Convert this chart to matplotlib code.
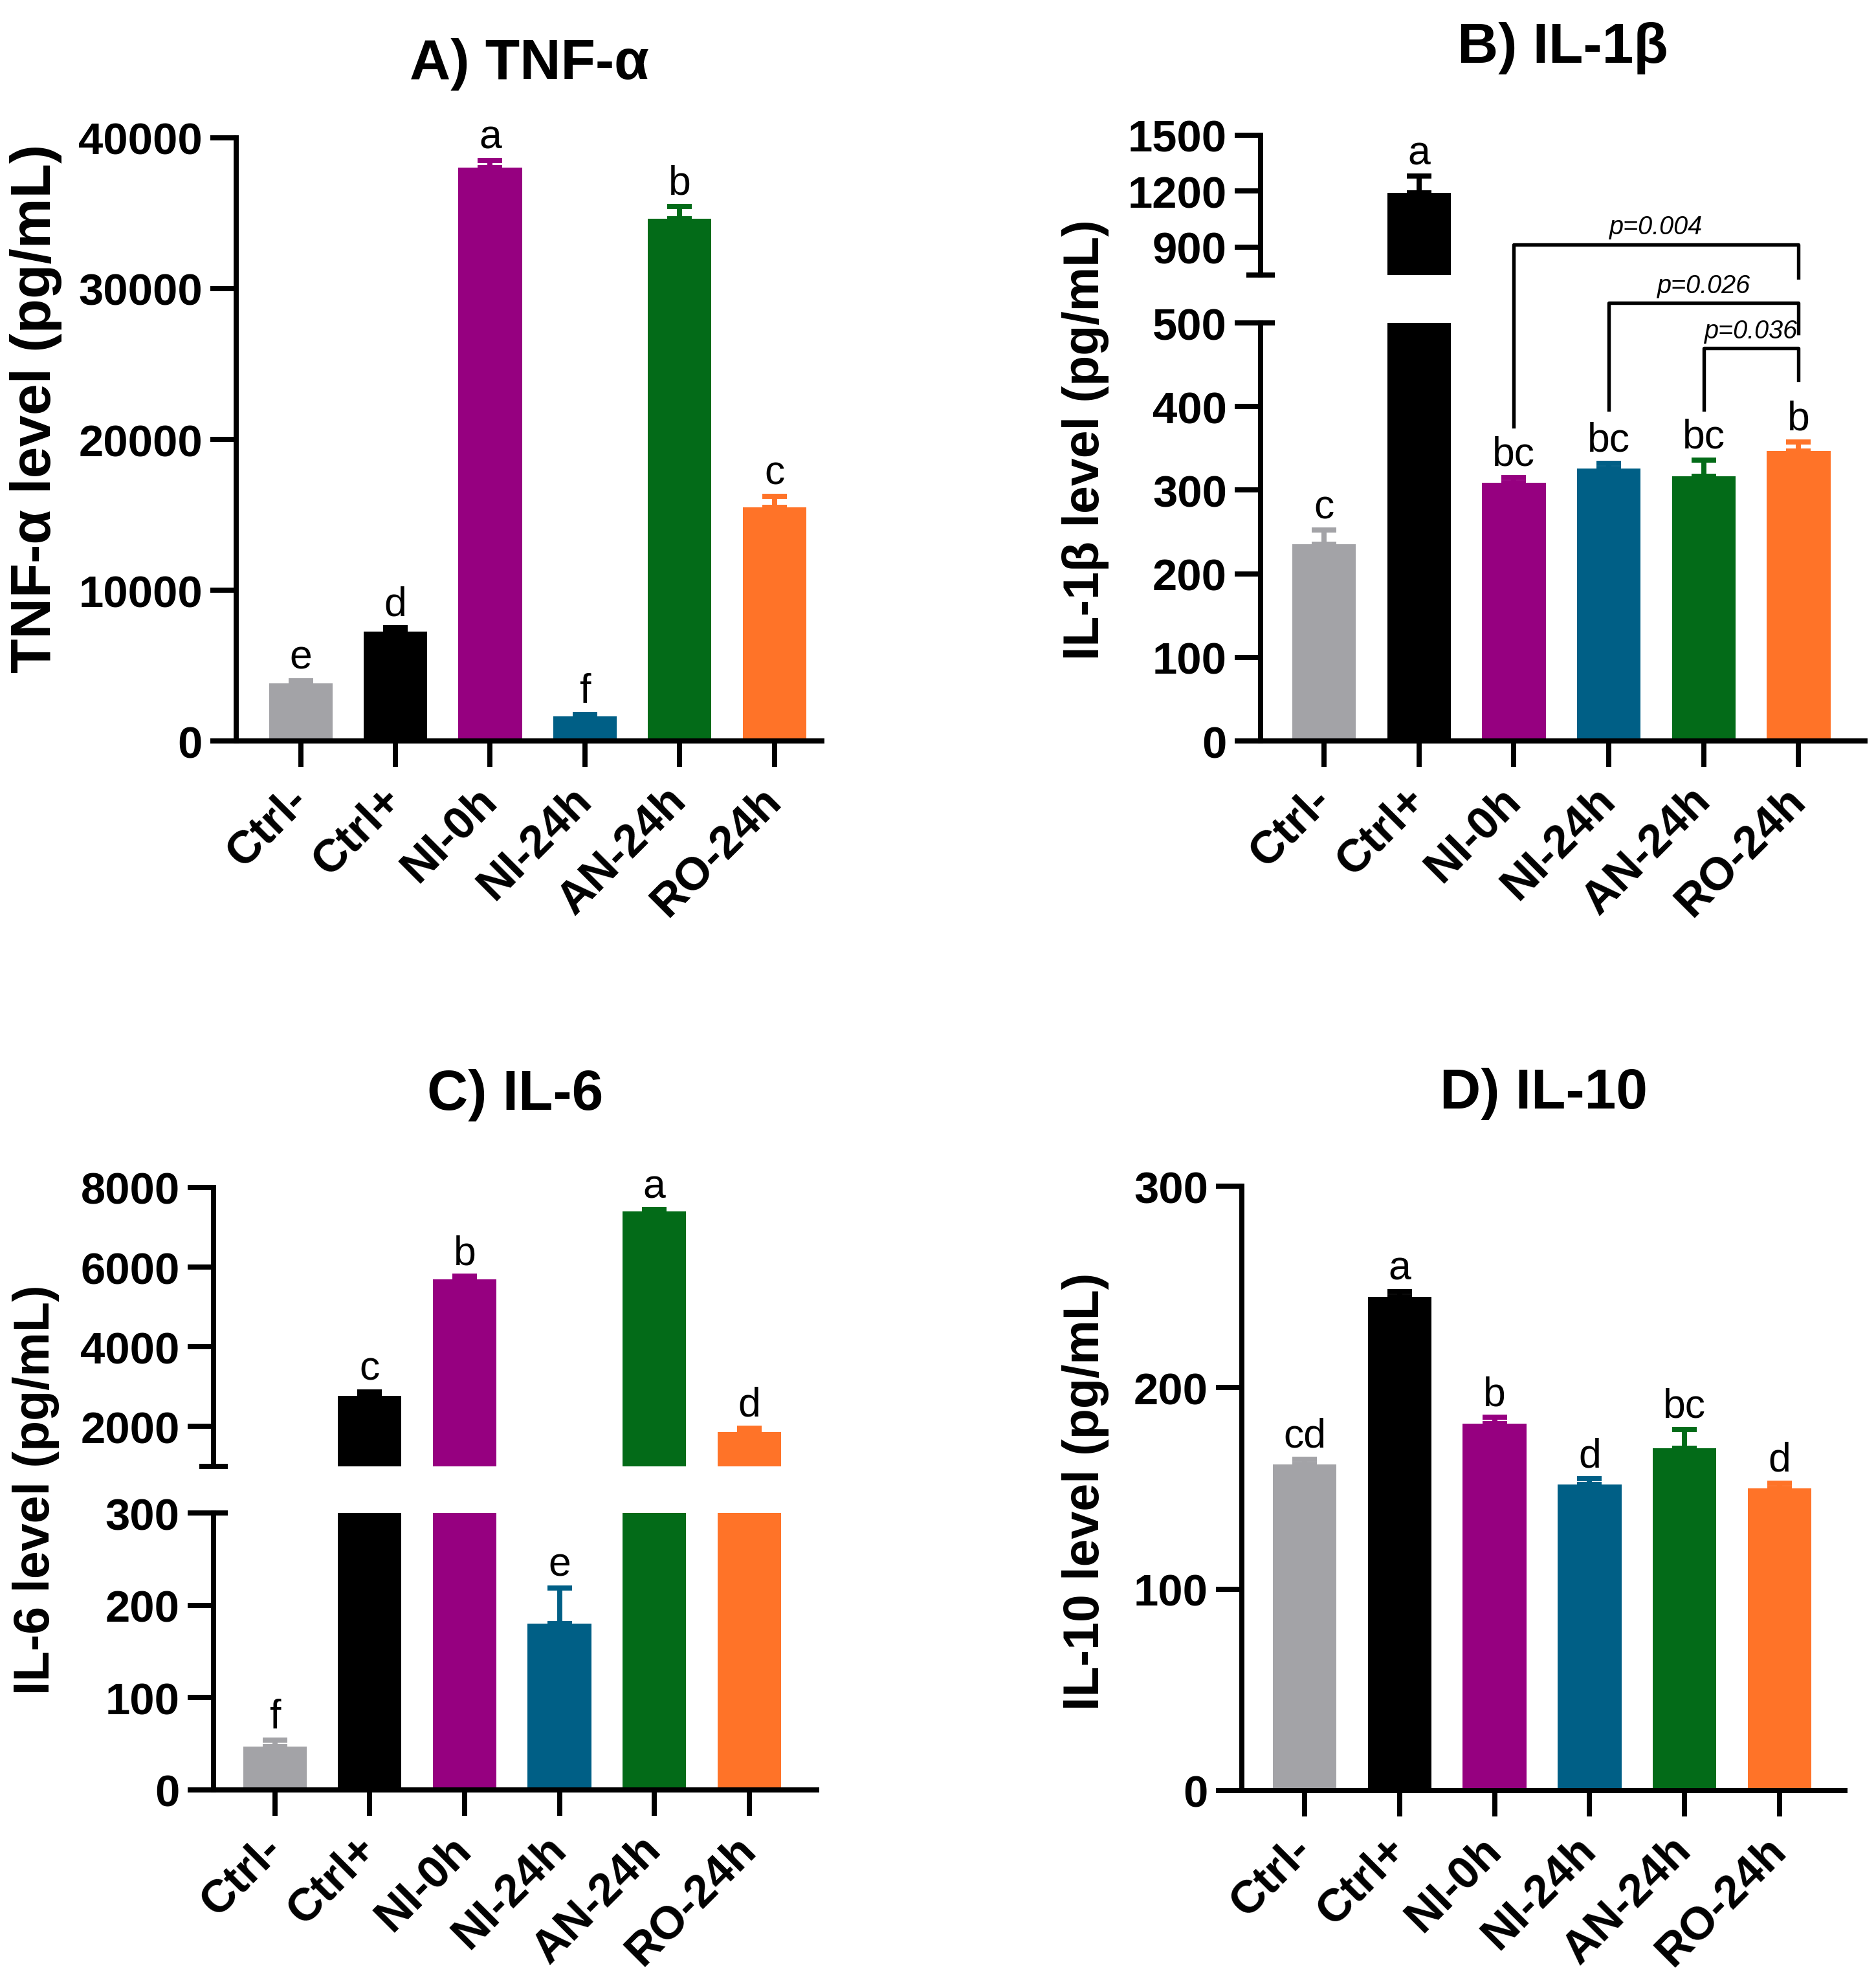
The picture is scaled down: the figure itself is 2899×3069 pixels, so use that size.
import numpy as np
import matplotlib
matplotlib.use('Agg')
import matplotlib.pyplot as plt

plt.rcParams['font.family'] = ['Liberation Sans', 'DejaVu Sans']
plt.rcParams['font.weight'] = 'bold'

# ---- data ----
groups = ['Ctrl-', 'Ctrl+', 'NI-0h', 'NI-24h', 'AN-24h', 'RO-24h']
colors = ['#A3A3A7', '#000000', '#960080', '#005F86', '#036B18', '#FF7328']

tnf_mean = [3830, 7250, 38040, 1640, 34650, 15480]
tnf_err = [170, 260, 460, 120, 800, 750]
tnf_letters = ['e', 'd', 'a', 'f', 'b', 'c']

il1b_mean = [235, 1190, 309, 326, 317, 347]
il1b_err = [17, 90, 6, 6, 19, 11]
il1b_letters = ['c', 'a', 'bc', 'bc', 'bc', 'b']

il6_mean = [47, 2775, 5690, 180, 7390, 1865]
il6_err = [7, 95, 75, 39, 50, 95]
il6_letters = ['f', 'c', 'b', 'e', 'a', 'd']

il10_mean = [162, 245, 182, 152, 170, 150]
il10_err = [2.5, 2.8, 3.2, 2.7, 9.2, 2.7]
il10_letters = ['cd', 'a', 'b', 'd', 'bc', 'd']

# IL-1b comparisons: (group i, group j, label)
il1b_pairs = [(2, 5, 'p=0.004'), (3, 5, 'p=0.026'), (4, 5, 'p=0.036')]

LW = 1.9
x = np.arange(len(groups))

fig = plt.figure(figsize=(2899 / 300, 3070 / 300), dpi=300)


def setup(ax, xlim, ylim, yticks, show_x=True):
    ax.set_facecolor('none')
    ax.set_xlim(*xlim)
    ax.set_ylim(*ylim)
    ax.set_yticks(yticks)
    ax.spines[['top', 'right']].set_visible(False)
    ax.spines[['left', 'bottom']].set_linewidth(LW)
    ax.tick_params(width=LW, length=9.5, labelsize=16.5, pad=3)
    if show_x:
        ax.set_xticks(x)
        ax.set_xticklabels(groups, rotation=45, ha='right', va='center',
                           rotation_mode='anchor', fontsize=17)
        ax.tick_params(axis='x', pad=10)
    else:
        ax.spines['bottom'].set_visible(False)
        ax.set_xticks([])


def bars(ax, means, errs):
    ax.bar(x, means, width=0.67, color=colors, zorder=2)
    for xi, m, e, c in zip(x, means, errs, colors):
        ax.errorbar(xi, m, yerr=[[0], [e]], fmt='none', ecolor=c,
                    elinewidth=LW, capsize=4.5, capthick=LW, zorder=1)


def letters(ax_lo, means, errs, labs, ax_hi=None):
    split = ax_lo.get_ylim()[1]
    for xi, m, e, s in zip(x, means, errs, labs):
        ax = ax_hi if (ax_hi is not None and m + e > split) else ax_lo
        ax.annotate(s, (xi, m + e), xytext=(0, 1.5), textcoords='offset points',
                    ha='center', va='bottom', fontsize=15, fontweight='normal')


def break_marks(ax_hi, ax_lo):
    d = 22 / (ax_hi.get_position().width * fig.get_figwidth() * fig.dpi)
    ax_hi.plot([-d, d], [0, 0], transform=ax_hi.transAxes, color='k', lw=LW,
               clip_on=False, solid_capstyle='butt')
    ax_lo.plot([0, d], [1, 1], transform=ax_lo.transAxes, color='k', lw=LW,
               clip_on=False, solid_capstyle='butt')


# ---- A) TNF-a ----
axA = fig.add_axes([0.1259, 0.6267, 0.3122, 0.3036])
setup(axA, (-0.68, 5.50), (0, 40000), np.arange(0, 40001, 10000))
bars(axA, tnf_mean, tnf_err)
letters(axA, tnf_mean, tnf_err, tnf_letters)
axA.set_title('A) TNF-α', fontsize=21, fontweight='bold', pad=22)

# ---- B) IL-1b (broken axis) ----
axBu = fig.add_axes([0.6720, 0.8612, 0.3222, 0.0704])
axBl = fig.add_axes([0.6720, 0.6267, 0.3222, 0.2104])
setup(axBu, (-0.667, 5.70), (750, 1500), [900, 1200, 1500], show_x=False)
setup(axBl, (-0.667, 5.70), (0, 500), np.arange(0, 501, 100))
for ax in (axBu, axBl):
    bars(ax, il1b_mean, il1b_err)
letters(axBl, il1b_mean, il1b_err, il1b_letters, axBu)
break_marks(axBu, axBl)
axBu.set_title('B) IL-1β', fontsize=21, fontweight='bold', pad=27)

tops = [594, 524, 470]
legs_left = [376, 396, 396]
legs_right = [554, 488, 432]
for (i, j, s), t, yl, yr in zip(il1b_pairs, tops, legs_left, legs_right):
    axBl.plot([x[i], x[i], x[j], x[j]], [yl, t, t, yr], color='k', lw=1.3,
              clip_on=False)
    axBl.annotate(s, ((x[i] + x[j]) / 2, t), xytext=(0, 2),
                  textcoords='offset points', ha='center', va='bottom',
                  fontsize=9.5, fontweight='normal', style='italic',
                  annotation_clip=False)

# ---- C) IL-6 (broken axis) ----
axCu = fig.add_axes([0.1138, 0.2616, 0.3215, 0.1404])
axCl = fig.add_axes([0.1138, 0.0987, 0.3215, 0.1394])
setup(axCu, (-0.646, 5.71), (1000, 8000), [2000, 4000, 6000, 8000], show_x=False)
setup(axCl, (-0.646, 5.71), (0, 300), np.arange(0, 301, 100))
for ax in (axCu, axCl):
    bars(ax, il6_mean, il6_err)
letters(axCl, il6_mean, il6_err, il6_letters, axCu)
break_marks(axCu, axCl)
axCu.set_title('C) IL-6', fontsize=21, fontweight='bold', pad=29)

# ---- D) IL-10 ----
axD = fig.add_axes([0.6620, 0.0984, 0.3215, 0.3042])
setup(axD, (-0.66, 5.69), (0, 300), np.arange(0, 301, 100))
bars(axD, il10_mean, il10_err)
letters(axD, il10_mean, il10_err, il10_letters)
axD.set_title('D) IL-10', fontsize=21, fontweight='bold', pad=29)

# y labels
ylab = dict(rotation=90, ha='center', va='center', fontweight='bold')
fig.text(0.0192, 0.7945, 'TNF-α level (pg/mL)', fontsize=21, **ylab)
fig.text(0.5787, 0.7785, 'IL-1β level (pg/mL)', fontsize=18.5, **ylab)
fig.text(0.0192, 0.2500, 'IL-6 level (pg/mL)', fontsize=18.5, **ylab)
fig.text(0.5787, 0.2492, 'IL-10 level (pg/mL)', fontsize=18.5, **ylab)

fig.savefig('out.png', dpi=300)
